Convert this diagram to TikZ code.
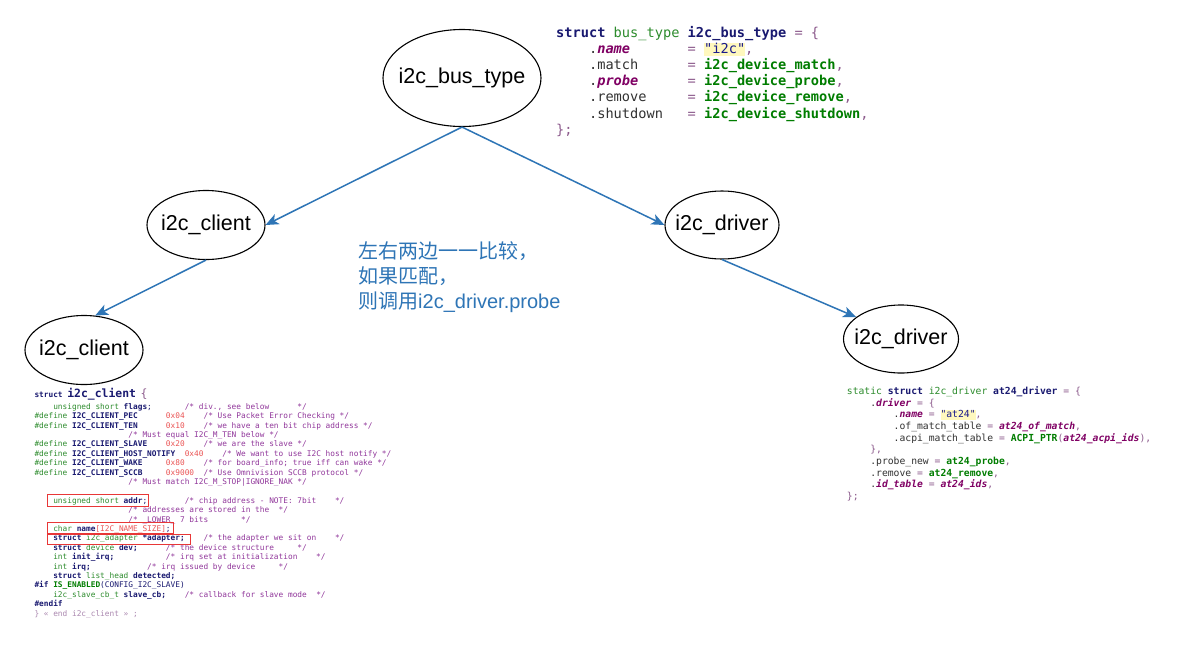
\documentclass[tikz,border=0pt]{standalone}
\usepackage{fontspec}
\setsansfont{Liberation Sans}
\setmonofont{DejaVu Sans Mono}
\newfontfamily\cjkfont{Noto Sans CJK SC}
\usetikzlibrary{shapes.geometric, arrows.meta}

\definecolor{flowcolor}{RGB}{46, 117, 182}
\definecolor{kwcolor}{RGB}{25, 25, 112}
\definecolor{typecolor}{RGB}{45, 140, 45}
\definecolor{fncolor}{RGB}{0, 125, 0}
\definecolor{fieldcolor}{RGB}{128, 0, 100}
\definecolor{plaincolor}{RGB}{50, 50, 50}
\definecolor{punctcolor}{RGB}{140, 90, 140}
\definecolor{commentcolor}{RGB}{145, 55, 155}
\definecolor{numcolor}{RGB}{235, 85, 85}
\definecolor{endcolor}{RGB}{170, 135, 175}
\definecolor{hlcolor}{RGB}{255, 248, 190}
\definecolor{strcolor}{RGB}{25, 25, 140}
\definecolor{markcolor}{RGB}{232, 55, 55}

% code colouring
\newcommand\ckw[1]{{\color{kwcolor}\bfseries #1}}
\newcommand\cop[1]{{\color{kwcolor}#1}}
\newcommand\cty[1]{{\color{typecolor}#1}}
\newcommand\cfn[1]{{\color{fncolor}\bfseries #1}}
\newcommand\cfld[1]{{\color{fieldcolor}\bfseries\itshape #1}}
\newcommand\cpl[1]{{\color{plaincolor}#1}}
\newcommand\cpu[1]{{\color{punctcolor}#1}}
\newcommand\ccmt[1]{{\color{commentcolor}#1}}
\newcommand\cnum[1]{{\color{numcolor}#1}}
\newcommand\cend[1]{{\color{endcolor}#1}}
\newcommand\cstr[1]{{\setlength\fboxsep{0pt}\colorbox{hlcolor}{\rule[-.2\baselineskip]{0pt}{.85\baselineskip}\color{strcolor}#1}}}
\newcommand\colsp[1]{\hspace*{#1\fontcharwd\font`0}}

\newcommand\busfont{\ttfamily\fontsize{13.65}{16.2}\selectfont\frenchspacing}
\newcommand\driverfont{\ttfamily\fontsize{9.72}{11.7}\selectfont\frenchspacing}
\newcommand\clientfont{\ttfamily\fontsize{7.8}{9.4}\selectfont\frenchspacing}
\newcommand\clientbig{\fontsize{11.4}{13}\selectfont}

\tikzset{
oval/.style={
  ellipse,
  draw=black,
  line width=1.1pt,
  fill=white,
  inner sep=0pt,
  label={[ovaltext]center:#1}
},
ovaltext/.style={
  font=\sffamily\fontsize{21.5}{26}\selectfont,
  text=black
},
flow/.style={
  -{Stealth[length=13pt,width=11pt,inset=3.5pt]},
  line width=1.5pt,
  draw=flowcolor
},
notetext/.style={
  anchor=base west,
  inner sep=0pt,
  text=flowcolor,
  font=\sffamily\fontsize{20}{25}\selectfont
},
codeline/.style={
  anchor=base west,
  inner sep=0pt,
  text=plaincolor
},
markbox/.style={
  draw=markcolor,
  line width=1pt
}
}

\begin{document}
\begin{tikzpicture}[x=1pt, y=-1pt]
  \useasboundingbox (0,0) rectangle (1183,646);
  \fill[white] (0,0) rectangle (1183,646);

  % Ovals
  \node[oval=i2c\_bus\_type, minimum width=158pt, minimum height=97pt] (bus) at (462,78) {};
  \node[oval=i2c\_client, minimum width=118pt, minimum height=69pt] (client) at (206,225) {};
  \node[oval=i2c\_driver, minimum width=114pt, minimum height=68pt] (driver) at (722,225) {};
  \node[oval=i2c\_client, minimum width=118pt, minimum height=69pt] (clientdev) at (84,350) {};
  \node[oval=i2c\_driver, minimum width=115pt, minimum height=68pt] (driverdrv) at (901,339) {};

  % Arrows
  \draw[flow] (bus.south) -- (client.east);
  \draw[flow] (bus.south) -- (driver.west);
  \draw[flow] (client.south) -- (clientdev.72);
  \draw[flow] (driver.south) -- (driverdrv.154);

  % Matching note
  \foreach \n/\txt in {0/{\cjkfont 左右两边一一比较，}, 1/{\cjkfont 如果匹配，}, 2/{{\cjkfont 则调用}i2c\_driver.probe}}
    \node[notetext] (note\n) at (358, 258.7+25*\n) {\txt};

  % bus_type code
  \foreach \n/\code in {
    0/{\ckw{struct} \cty{bus\_type} \ckw{i2c\_bus\_type} \cpu{= \{}},
    1/{\colsp{4}\cpl{.}\cfld{name}\colsp{7}\cpu{=} \cstr{"i2c"}\cpu{,}},
    2/{\colsp{4}\cpl{.match}\colsp{6}\cpu{=} \cfn{i2c\_device\_match}\cpu{,}},
    3/{\colsp{4}\cpl{.}\cfld{probe}\colsp{6}\cpu{=} \cfn{i2c\_device\_probe}\cpu{,}},
    4/{\colsp{4}\cpl{.remove}\colsp{5}\cpu{=} \cfn{i2c\_device\_remove}\cpu{,}},
    5/{\colsp{4}\cpl{.shutdown}\colsp{3}\cpu{=} \cfn{i2c\_device\_shutdown}\cpu{,}},
    6/{\cpu{\};}}}
    \node[codeline, font=\busfont] (busln\n) at (556, 37+16.2*\n) {\code};

  % at24 driver code
  \foreach \n/\code in {
    0/{\cty{static} \ckw{struct} \cty{i2c\_driver} \ckw{at24\_driver} \cpu{= \{}},
    1/{\colsp{4}\cpl{.}\cfld{driver} \cpu{= \{}},
    2/{\colsp{8}\cpl{.}\cfld{name} \cpu{=} \cstr{"at24"}\cpu{,}},
    3/{\colsp{8}\cpl{.of\_match\_table} \cpu{=} \cfld{at24\_of\_match}\cpu{,}},
    4/{\colsp{8}\cpl{.acpi\_match\_table} \cpu{=} \cfn{ACPI\_PTR}\cpu{(}\cfld{at24\_acpi\_ids}\cpu{),}},
    5/{\colsp{4}\cpu{\},}},
    6/{\colsp{4}\cpl{.probe\_new} \cpu{=} \cfn{at24\_probe}\cpu{,}},
    7/{\colsp{4}\cpl{.remove} \cpu{=} \cfn{at24\_remove}\cpu{,}},
    8/{\colsp{4}\cpl{.}\cfld{id\_table} \cpu{=} \cfld{at24\_ids}\cpu{,}},
    9/{\cpu{\};}}}
    \node[codeline, font=\driverfont] (drvln\n) at (846.7, 394.6+11.67*\n) {\code};

  % i2c_client code
  \node[codeline, font=\clientfont] (cliln0) at (34.3, 397.5)
    {\ckw{struct} \ckw{\clientbig i2c\_client} \cpu{\clientbig\{}};
  \foreach \n/\code in {
    1/{\colsp{4}\cty{unsigned short} \ckw{flags}\cop{;}\colsp{7}\ccmt{/* div., see below\colsp{6}*/}},
    2/{\cty{\#define} \ckw{I2C\_CLIENT\_PEC}\colsp{6}\cnum{0x04}\colsp{4}\ccmt{/* Use Packet Error Checking */}},
    3/{\cty{\#define} \ckw{I2C\_CLIENT\_TEN}\colsp{6}\cnum{0x10}\colsp{4}\ccmt{/* we have a ten bit chip address */}},
    4/{\colsp{20}\ccmt{/* Must equal I2C\_M\_TEN below */}},
    5/{\cty{\#define} \ckw{I2C\_CLIENT\_SLAVE}\colsp{4}\cnum{0x20}\colsp{4}\ccmt{/* we are the slave */}},
    6/{\cty{\#define} \ckw{I2C\_CLIENT\_HOST\_NOTIFY}\colsp{2}\cnum{0x40}\colsp{4}\ccmt{/* We want to use I2C host notify */}},
    7/{\cty{\#define} \ckw{I2C\_CLIENT\_WAKE}\colsp{5}\cnum{0x80}\colsp{4}\ccmt{/* for board\_info; true iff can wake */}},
    8/{\cty{\#define} \ckw{I2C\_CLIENT\_SCCB}\colsp{5}\cnum{0x9000}\colsp{2}\ccmt{/* Use Omnivision SCCB protocol */}},
    9/{\colsp{20}\ccmt{/* Must match I2C\_M\_STOP|IGNORE\_NAK */}},
    11/{\colsp{4}\cty{unsigned short} \ckw{addr}\cop{;}\colsp{8}\ccmt{/* chip address - NOTE: 7bit\colsp{4}*/}},
    12/{\colsp{20}\ccmt{/* addresses are stored in the\colsp{2}*/}},
    13/{\colsp{20}\ccmt{/* \_LOWER\_ 7 bits\colsp{7}*/}},
    14/{\colsp{4}\cty{char} \ckw{name}\cnum{[I2C\_NAME\_SIZE]}\cop{;}},
    15/{\colsp{4}\ckw{struct} \cty{i2c\_adapter} \ckw{*adapter;}\colsp{4}\ccmt{/* the adapter we sit on\colsp{4}*/}},
    16/{\colsp{4}\ckw{struct} \cty{device} \ckw{dev;}\colsp{6}\ccmt{/* the device structure\colsp{5}*/}},
    17/{\colsp{4}\cty{int} \ckw{init\_irq;}\colsp{11}\ccmt{/* irq set at initialization\colsp{4}*/}},
    18/{\colsp{4}\cty{int} \ckw{irq;}\colsp{12}\ccmt{/* irq issued by device\colsp{5}*/}},
    19/{\colsp{4}\ckw{struct} \cty{list\_head} \ckw{detected;}},
    20/{\ckw{\#if} \cfn{IS\_ENABLED}\cop{(CONFIG\_I2C\_SLAVE)}},
    21/{\colsp{4}\cty{i2c\_slave\_cb\_t} \ckw{slave\_cb;}\colsp{4}\ccmt{/* callback for slave mode\colsp{2}*/}},
    22/{\ckw{\#endif}},
    23/{\cend{\} « end i2c\_client » ;}}}
    \node[codeline, font=\clientfont] (cliln\n) at (34.3, 399.8+9.4*\n) {\code};

  % Marked fields
  \draw[markbox] (47,494) rectangle (148,506);
  \draw[markbox] (47,522) rectangle (173,533);
  \draw[markbox] (47,534) rectangle (190,544);
\end{tikzpicture}
\end{document}
